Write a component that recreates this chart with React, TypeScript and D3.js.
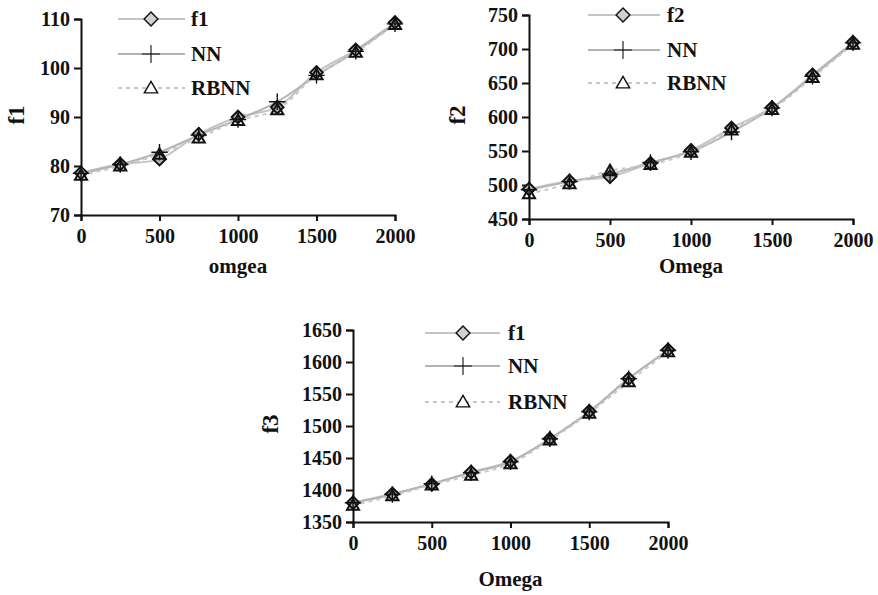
import * as d3 from "d3";
import { useEffect, useRef } from "react";

const omega = [0, 250, 500, 750, 1000, 1250, 1500, 1750, 2000];
const xTicks = [0, 500, 1000, 1500, 2000];

const f1Exact = [78.6, 80.4, 81.4, 86.5, 90.0, 92.0, 99.1, 103.7, 109.3];
const f1NN = [78.5, 80.3, 82.8, 86.3, 89.5, 93.1, 98.5, 103.4, 109.0];
const f1RBNN = [78.1, 80.0, 82.4, 85.7, 89.3, 91.5, 98.6, 103.2, 108.9];
const f1Ticks = [70, 80, 90, 100, 110];

const f2Exact = [494, 506, 512, 532, 551, 584, 614, 662, 710];
const f2NN = [493, 505, 516, 533, 549, 578, 613, 660, 709];
const f2RBNN = [487, 502, 521, 530, 548, 581, 611, 658, 707];
const f2Ticks = [450, 500, 550, 600, 650, 700, 750];

const f3Exact = [1380, 1394, 1409, 1428, 1445, 1480, 1523, 1574, 1619];
const f3NN = [1380, 1393, 1410, 1427, 1444, 1480, 1522, 1574, 1618];
const f3RBNN = [1376, 1391, 1408, 1423, 1441, 1478, 1520, 1569, 1616];
const f3Ticks = [1350, 1400, 1450, 1500, 1550, 1600, 1650];

type PanelSpec = {
  x0: number;
  x1: number;
  yTop: number;
  yBottom: number;
  yTicks: number[];
  exact: number[];
  nn: number[];
  rbnn: number[];
  names: string[];
  yLabel: string;
  yLabelX: number;
  xLabel: string;
  xLabelY: number;
  legendX: [number, number, number, number];
  legendY: number[];
};

const panels: PanelSpec[] = [
  {
    x0: 81, x1: 395, yTop: 19, yBottom: 215,
    yTicks: f1Ticks, exact: f1Exact, nn: f1NN, rbnn: f1RBNN,
    names: ["f1", "NN", "RBNN"], yLabel: "f1", yLabelX: 16,
    xLabel: "omgea", xLabelY: 273,
    legendX: [118, 185, 151, 191], legendY: [19, 54, 88],
  },
  {
    x0: 529, x1: 853, yTop: 15, yBottom: 219,
    yTicks: f2Ticks, exact: f2Exact, nn: f2NN, rbnn: f2RBNN,
    names: ["f2", "NN", "RBNN"], yLabel: "f2", yLabelX: 457,
    xLabel: "Omega", xLabelY: 273,
    legendX: [588, 660, 623, 667], legendY: [15, 50, 83],
  },
  {
    x0: 353, x1: 668, yTop: 330, yBottom: 522,
    yTicks: f3Ticks, exact: f3Exact, nn: f3NN, rbnn: f3RBNN,
    names: ["f1", "NN", "RBNN"], yLabel: "f3", yLabelX: 270,
    xLabel: "Omega", xLabelY: 586,
    legendX: [425, 500, 463, 508], legendY: [333, 366, 402],
  },
];

const font = "'Liberation Serif', 'Times New Roman', serif";

export default function App() {
  const ref = useRef<SVGSVGElement | null>(null);

  useEffect(() => {
    if (!ref.current) return;
    const svg = d3.select(ref.current);
    svg.selectAll("*").remove();

    const diamond = d3.symbol().type(d3.symbolDiamond2).size(100);
    const triangle = d3.symbol().type(d3.symbolTriangle2).size(105);
    const plus = d3.symbol().type(d3.symbolPlus).size(90);

    panels.forEach((p) => {
      const g = svg.append("g");
      const x = d3.scaleLinear().domain([0, 2000]).range([p.x0, p.x1]);
      const y = d3
        .scaleLinear()
        .domain([p.yTicks[0], p.yTicks[p.yTicks.length - 1]])
        .range([p.yBottom, p.yTop]);

      // axes
      const yAxis = g
        .append("g")
        .attr("transform", `translate(${p.x0},0)`)
        .call(d3.axisLeft(y).tickValues(p.yTicks).tickSize(7).tickPadding(4).tickFormat(d3.format("d")));
      const xAxis = g
        .append("g")
        .attr("transform", `translate(0,${p.yBottom})`)
        .call(d3.axisBottom(x).tickValues(xTicks).tickSize(6).tickPadding(8).tickFormat(d3.format("d")));
      [yAxis, xAxis].forEach((a) => {
        a.select(".domain").attr("stroke", "#111").attr("stroke-width", 2);
        a.selectAll(".tick line").attr("stroke", "#111").attr("stroke-width", 2);
        a.selectAll(".tick text")
          .attr("fill", "#111")
          .style("font-family", font)
          .style("font-weight", "bold")
          .style("font-size", "20px");
      });

      // lines
      const series = [
        { vals: p.exact, color: "#c4c4c4", dash: null },
        { vals: p.nn, color: "#b4b4b4", dash: null },
        { vals: p.rbnn, color: "#c8c8c8", dash: "4,4" },
      ];
      series.forEach((s) => {
        const line = d3
          .line<number>()
          .x((_, i) => x(omega[i]))
          .y((d) => y(d))
          .curve(d3.curveCatmullRom);
        g.append("path")
          .attr("d", line(s.vals))
          .attr("fill", "none")
          .attr("stroke", s.color)
          .attr("stroke-width", 2)
          .attr("stroke-dasharray", s.dash);
      });

      // markers
      p.exact.forEach((v, i) => {
        g.append("path")
          .attr("d", diamond()!)
          .attr("transform", `translate(${x(omega[i])},${y(v)})`)
          .attr("fill", "#b8b8b8")
          .attr("stroke", "#111")
          .attr("stroke-width", 2);
      });
      p.nn.forEach((v, i) => {
        g.append("path")
          .attr("d", plus()!)
          .attr("transform", `translate(${x(omega[i])},${y(v)})`)
          .attr("fill", "none")
          .attr("stroke", "#111")
          .attr("stroke-width", 1.4);
      });
      p.rbnn.forEach((v, i) => {
        g.append("path")
          .attr("d", triangle()!)
          .attr("transform", `translate(${x(omega[i])},${y(v) + 1})`)
          .attr("fill", "none")
          .attr("stroke", "#111")
          .attr("stroke-width", 2);
      });

      // legend
      const [lx0, lx1, mx, tx] = p.legendX;
      const syms = [diamond, plus, triangle];
      series.forEach((s, i) => {
        const ly = p.legendY[i];
        g.append("line")
          .attr("x1", lx0).attr("x2", lx1).attr("y1", ly).attr("y2", ly)
          .attr("stroke", s.color).attr("stroke-width", 2)
          .attr("stroke-dasharray", s.dash);
        g.append("path")
          .attr("d", syms[i]()!)
          .attr("transform", `translate(${mx},${ly + (i === 2 ? 1 : 0)}) scale(1.1)`)
          .attr("fill", i === 0 ? "#d0d0d0" : i === 2 ? "#fff" : "none")
          .attr("stroke", "#111")
          .attr("stroke-width", i === 1 ? 1 : 1.3);
        g.append("text")
          .attr("x", tx).attr("y", ly).attr("dy", "0.35em")
          .style("font-family", font).style("font-weight", "bold").style("font-size", "21px")
          .attr("fill", "#111")
          .text(p.names[i]);
      });

      // axis titles
      g.append("text")
        .attr("transform", `translate(${p.yLabelX},${(p.yTop + p.yBottom) / 2 - 2}) rotate(-90)`)
        .attr("text-anchor", "middle").attr("dy", "0.35em")
        .style("font-family", font).style("font-weight", "bold").style("font-size", "23px")
        .attr("fill", "#111")
        .text(p.yLabel);
      g.append("text")
        .attr("x", (p.x0 + p.x1) / 2).attr("y", p.xLabelY)
        .attr("text-anchor", "middle")
        .style("font-family", font).style("font-weight", "bold").style("font-size", "21px")
        .attr("fill", "#111")
        .text(p.xLabel);
    });
  }, []);

  return (
    <svg
      ref={ref}
      width={878}
      height={595}
      style={{ position: "absolute", left: 0, top: 0, background: "#fff" }}
    />
  );
}
